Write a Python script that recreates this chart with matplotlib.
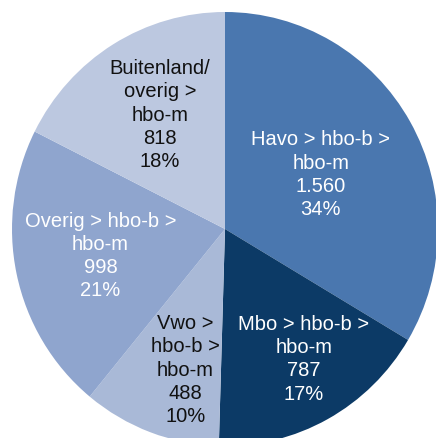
import numpy as np
import matplotlib.pyplot as plt

plt.rcParams['font.family'] = ['Liberation Sans', 'DejaVu Sans']

# routes to hbo-master, clockwise from the top
routes = ['Havo > hbo-b >\nhbo-m', 'Mbo > hbo-b >\nhbo-m', 'Vwo >\nhbo-b >\nhbo-m',
          'Overig > hbo-b >\nhbo-m', 'Buitenland/\noverig >\nhbo-m']
counts = [1560, 787, 488, 998, 818]
count_labels = ['1.560', '787', '488', '998', '818']
percentages = ['34%', '17%', '10%', '21%', '18%']
colors = ['#4a77af', '#0c3a66', '#a9b9d7', '#8fa5ce', '#bcc8e0']
text_colors = ['white', 'white', '#111111', 'white', '#111111']

# label centre positions in pie units (found by eye)
label_pos = [(0.45, 0.25), (0.37, -0.60), (-0.185, -0.65), (-0.585, -0.125), (-0.305, 0.525)]

W, H = 436, 438
cx, cy, rx, ry = 225, 229, 213, 217

fig = plt.figure(figsize=(W / 100, H / 100), dpi=100)
ax = fig.add_axes([0, 0, 1, 1])
ax.pie(counts, colors=colors, startangle=90, counterclock=False, radius=1,
       wedgeprops=dict(linewidth=0))
ax.set_aspect('auto')
ax.set_xlim(-cx / rx, (W - cx) / rx)
ax.set_ylim(-(H - cy) / ry, cy / ry)
ax.axis('off')

for i in range(len(routes)):
    txt = routes[i] + '\n' + count_labels[i] + '\n' + percentages[i]
    ax.text(label_pos[i][0], label_pos[i][1], txt, ha='center', va='center',
            multialignment='center', fontsize=14.5, linespacing=1.28,
            color=text_colors[i])

fig.savefig('out.png', dpi=100)
